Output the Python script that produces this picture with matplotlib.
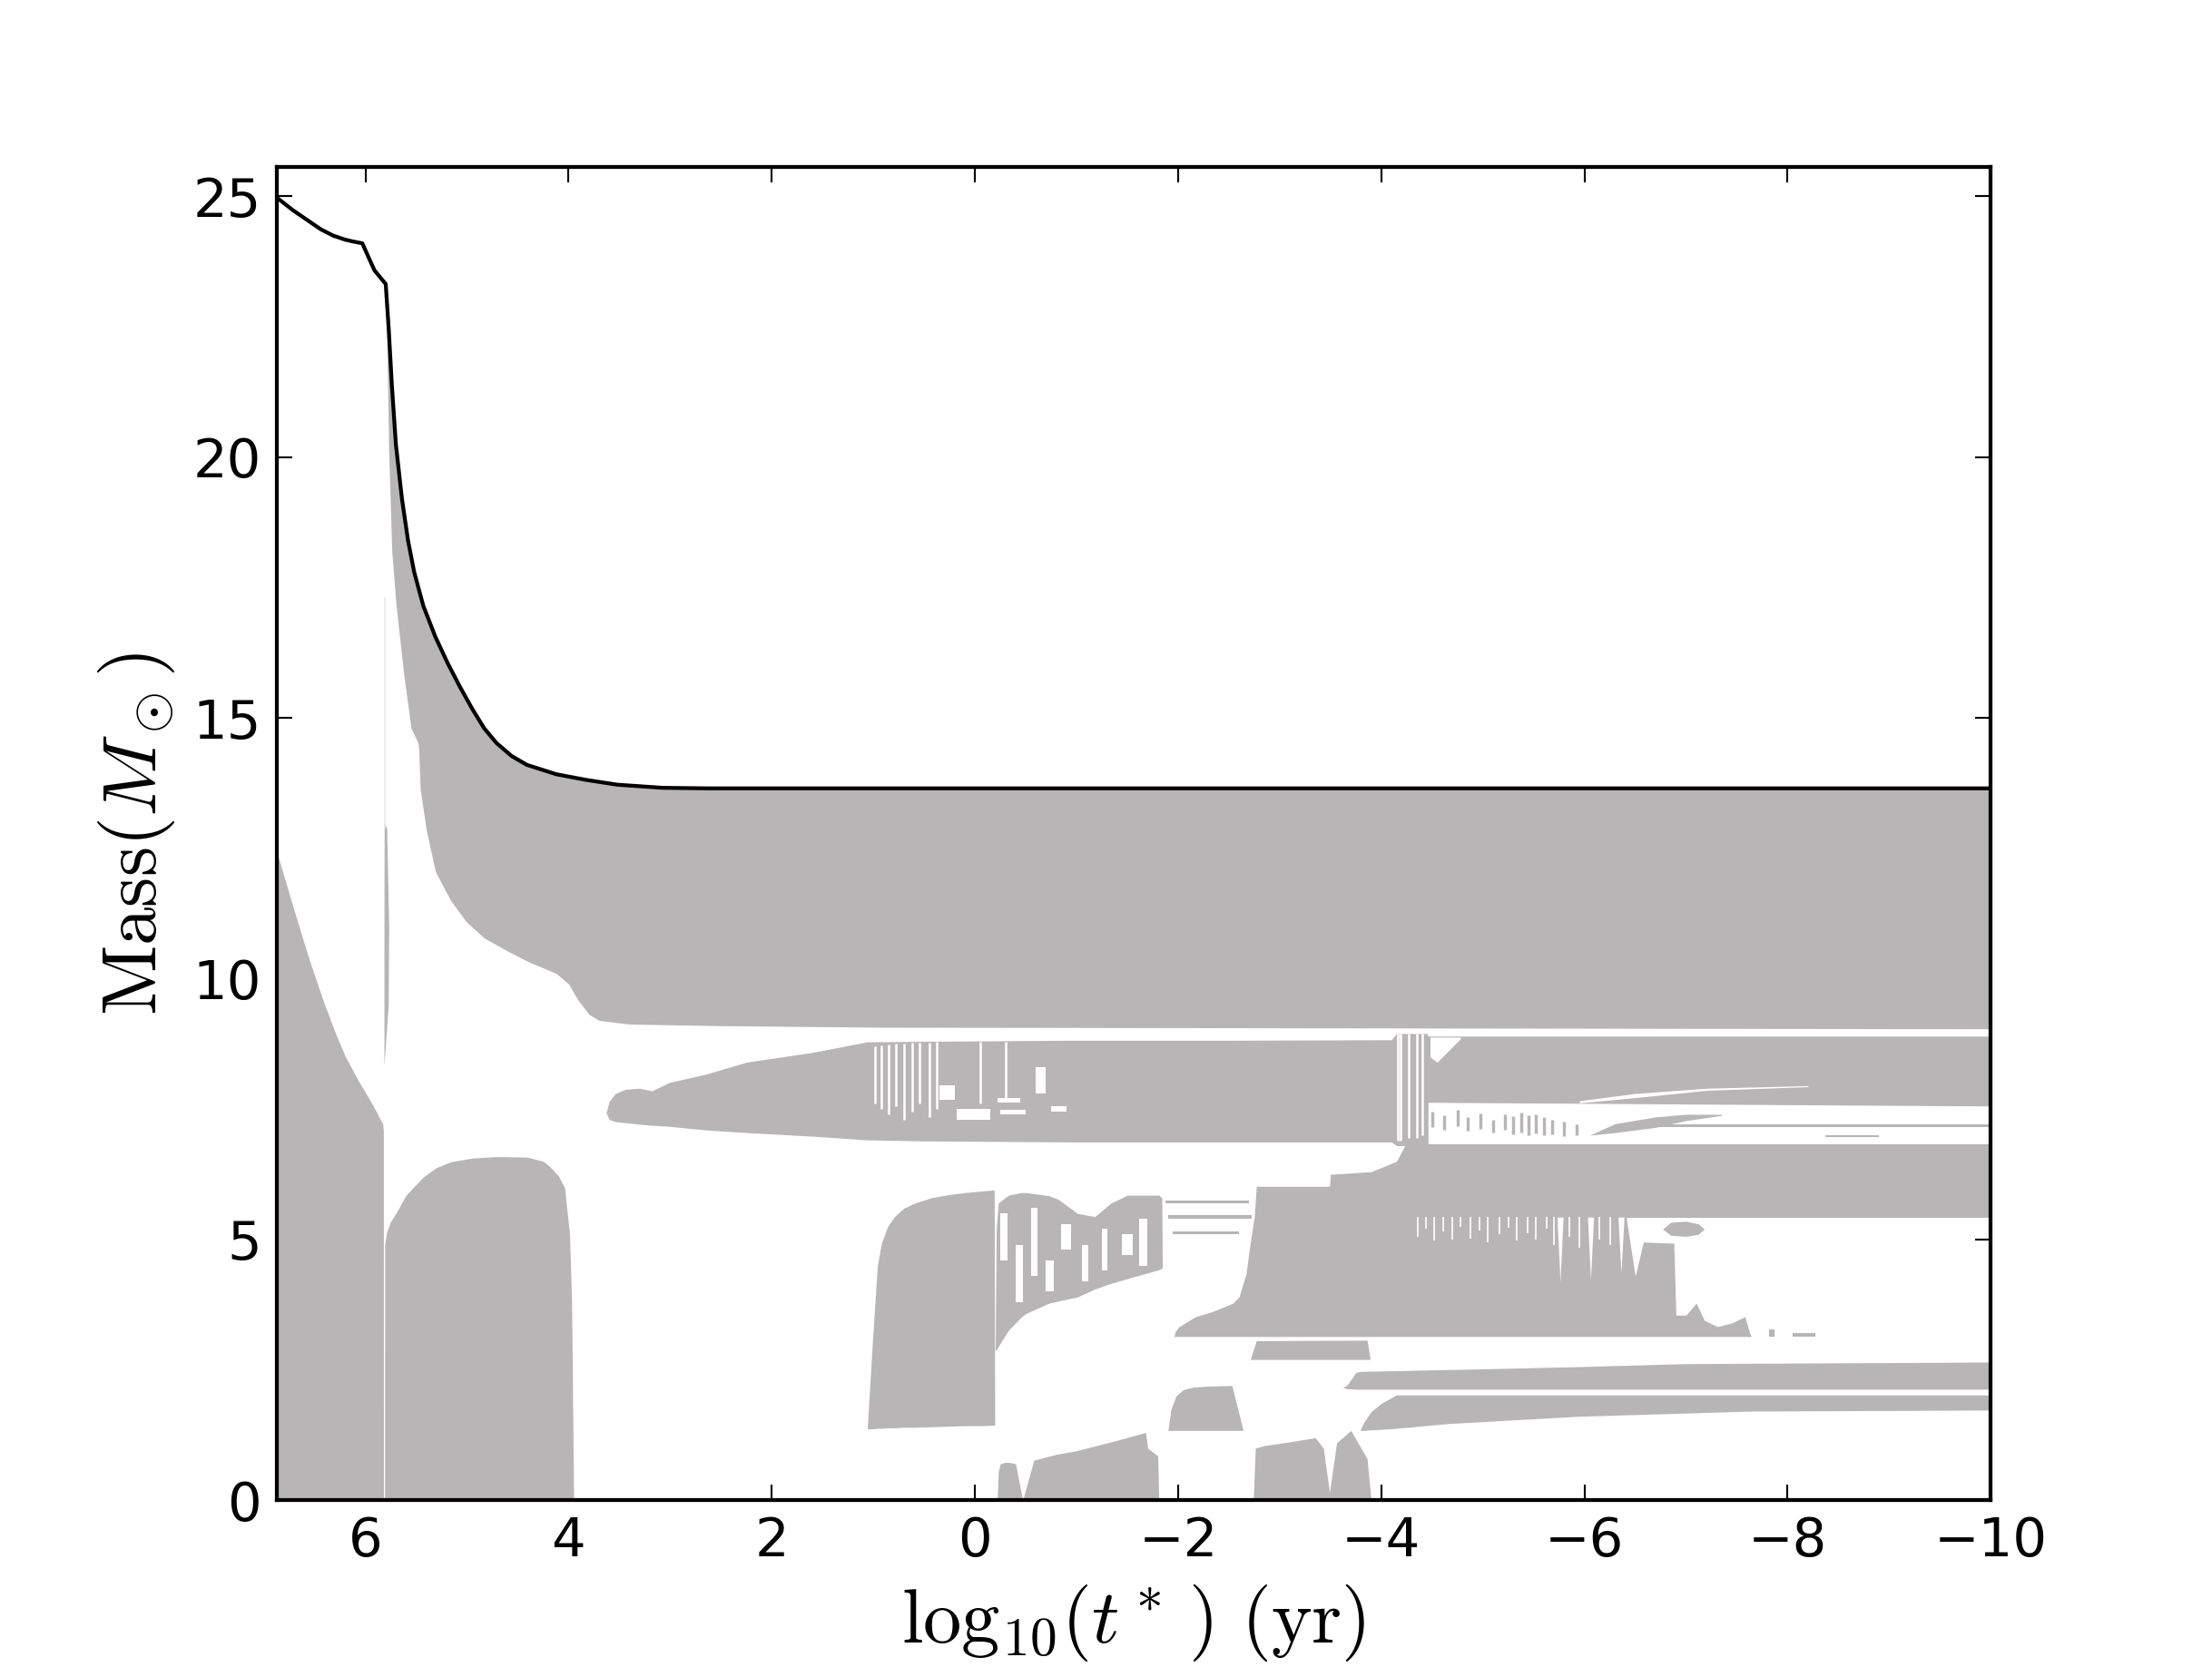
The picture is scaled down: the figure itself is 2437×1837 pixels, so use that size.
import numpy as np
import matplotlib
matplotlib.use('Agg')
import matplotlib.pyplot as plt

plt.rcParams['mathtext.fontset'] = 'cm'
plt.rcParams['xtick.direction'] = 'in'
plt.rcParams['ytick.direction'] = 'in'
plt.rcParams['xtick.top'] = True
plt.rcParams['ytick.right'] = True
plt.rcParams['xtick.major.size'] = 4
plt.rcParams['ytick.major.size'] = 4
plt.rcParams['xtick.major.width'] = 0.5
plt.rcParams['ytick.major.width'] = 0.5
plt.rcParams['xtick.major.pad'] = 4
plt.rcParams['ytick.major.pad'] = 4
plt.rcParams['axes.linewidth'] = 1.0

grey = '#b8b5b6'

# total mass of the star
mass_t = [6.875, 6.71, 6.56, 6.44, 6.32, 6.20, 6.11, 6.03, 5.95, 5.91, 5.80, 5.77, 5.74, 5.70,
          5.64, 5.58, 5.52, 5.43, 5.31, 5.19, 5.07, 4.95, 4.83, 4.71, 4.56, 4.41, 4.12, 3.82,
          3.52, 3.07, 2.63, -10.0]
mass_m = [24.98, 24.73, 24.53, 24.37, 24.25, 24.17, 24.13, 24.10, 23.75, 23.58, 23.32, 22.45, 21.40, 20.25,
          19.20, 18.40, 17.80, 17.15, 16.55, 16.05, 15.60, 15.18, 14.80, 14.52, 14.27, 14.10, 13.92, 13.81,
          13.72, 13.66, 13.65, 13.65]

# convective envelope: lower boundary (upper boundary is the surface)
env_t = [5.800, 5.790, 5.770, 5.740, 5.700, 5.620, 5.550, 5.500, 5.480, 5.475, 5.460, 5.400, 5.310,
         5.160, 5.010, 4.830, 4.590, 4.410, 4.120, 4.000, 3.910, 3.800, 3.700, 3.400, 2.500, 0.930, -10.0]
env_lo = [23.30, 22.40, 20.10, 18.20, 17.20, 15.80, 14.80, 14.60, 14.50, 14.40, 13.63, 12.85, 12.05,
          11.50, 11.10, 10.78, 10.52, 10.34, 10.10, 9.90, 9.60, 9.32, 9.20, 9.13, 9.10, 9.07, 9.04]

# hydrogen burning core
core1_t = [6.875, 6.70, 6.55, 6.41, 6.30, 6.20, 6.08, 5.97, 5.90, 5.83, 5.823, 5.822]
core1_m = [12.45, 11.30, 10.35, 9.55, 8.98, 8.52, 8.08, 7.72, 7.48, 7.22, 7.10, 0.0]

# helium burning core
core2_t = [5.811, 5.810, 5.790, 5.750, 5.700, 5.600, 5.430, 5.300, 5.160, 4.950, 4.710, 4.410,
           4.250, 4.180, 4.100, 4.040, 3.990, 3.970, 3.955, 3.950]
core2_m = [0.0, 4.90, 5.15, 5.35, 5.50, 5.85, 6.20, 6.38, 6.49, 6.56, 6.59, 6.58,
           6.50, 6.39, 6.22, 6.00, 5.10, 3.83, 1.00, 0.0]

# thin sliver after core hydrogen exhaustion
sliver_m = [8.37, 9.50, 11.00, 12.88, 13.00]
sliver_l = [5.817, 5.817, 5.817, 5.815, 5.815]
sliver_r = [5.815, 5.775, 5.770, 5.790, 5.812]

# shell convection zone
shell_t = [3.630, 3.600, 3.540, 3.440, 3.300, 3.180, 3.010, 2.650, 2.250, 1.590, 1.060, 0.500,
           -0.950, -2.500, -4.100, -4.150, -4.450, -4.460]
shell_top = [7.43, 7.65, 7.80, 7.88, 7.90, 7.85, 8.01, 8.17, 8.40, 8.59, 8.79, 8.80,
             8.82, 8.82, 8.83, 8.95, 8.95, 8.90]
shell_bot = [7.43, 7.30, 7.26, 7.24, 7.21, 7.19, 7.17, 7.10, 7.05, 6.98, 6.91, 6.89,
             6.87, 6.87, 6.87, 6.80, 6.80, 6.80]

# late bands
b8_t = [-4.45, -10.0]
b8_top = [8.90, 8.90]
b8_bot = [7.63, 7.56]
b6_t = [-4.24, -10.0]
b6_top = [6.83, 6.83]
b6_bot = [5.42, 5.42]

# carbon burning zones
blk_t = [1.060, 1.010, 0.960, 0.920, 0.860, 0.790, 0.700, 0.590, 0.430, 0.260, 0.100, -0.070, -0.190, -0.195]
blk_top = [1.37, 3.00, 4.50, 4.93, 5.25, 5.44, 5.60, 5.70, 5.80, 5.86, 5.90, 5.93, 5.95, 1.44]
blk_bot = [1.37, 1.37, 1.38, 1.38, 1.39, 1.39, 1.40, 1.40, 1.41, 1.42, 1.43, 1.43, 1.44, 1.44]

mess_t = [-0.200, -0.210, -0.230, -0.330, -0.460, -0.500, -0.730, -0.820, -1.010, -1.180, -1.340,
          -1.500, -1.810, -1.840, -1.845]
mess_top = [2.88, 5.20, 5.70, 5.85, 5.90, 5.90, 5.84, 5.77, 5.50, 5.44, 5.70, 5.85, 5.85, 5.80, 4.45]
mess_bot = [2.88, 2.88, 2.95, 3.26, 3.52, 3.58, 3.78, 3.82, 3.90, 4.05, 4.16, 4.25, 4.42, 4.45, 4.45]

lr_t = [-1.960, -1.970, -2.010, -2.170, -2.340, -2.540, -2.600, -2.670, -2.700, -2.750, -2.770,
        -3.490, -3.500, -3.900, -4.150, -4.240, -4.300, -6.400, -6.420, -6.500, -6.580, -6.880,
        -6.900, -7.000, -7.100, -7.180, -7.310, -7.450, -7.580, -7.620, -7.640]
lr_top = [3.14, 3.23, 3.33, 3.52, 3.62, 3.78, 3.90, 4.35, 4.80, 5.44, 6.02,
          6.02, 6.25, 6.30, 6.50, 6.83, 5.60, 5.60, 5.30, 4.30, 4.95, 4.93,
          3.55, 3.55, 3.78, 3.45, 3.33, 3.40, 3.52, 3.25, 3.14]

r27_t = [-2.710, -2.770, -3.860, -3.890]
r27_top = [2.70, 3.06, 3.07, 2.72]

b2u_t = [-3.620, -3.660, -3.750, -3.790, -4.500, -5.000, -5.900, -7.000, -10.0]
b2u_top = [2.17, 2.20, 2.45, 2.47, 2.50, 2.52, 2.56, 2.62, 2.65]
b2u_bot = [2.17, 2.14, 2.13, 2.13, 2.13, 2.13, 2.13, 2.13, 2.13]
b2l_t = [-3.790, -3.830, -3.900, -4.000, -4.150, -4.650, -5.930, -7.640, -10.0]
b2l_top = [1.34, 1.50, 1.70, 1.86, 2.02, 2.02, 2.02, 2.02, 2.02]
b2l_bot = [1.34, 1.34, 1.35, 1.36, 1.38, 1.47, 1.61, 1.71, 1.73]

humpA_t = [-1.900, -1.930, -1.980, -2.050, -2.150, -2.300, -2.530, -2.640]
humpA_top = [1.34, 1.75, 2.00, 2.12, 2.17, 2.19, 2.20, 1.34]

bl1_t = [-0.220, -0.230, -0.250, -0.300, -0.360, -0.400, -0.470]
bl1_top = [0.0, 0.55, 0.70, 0.73, 0.72, 0.70, 0.0]
bl2_t = [-0.470, -0.580, -0.800, -1.000, -1.400, -1.680, -1.700, -1.800, -1.810]
bl2_top = [0.0, 0.77, 0.88, 0.95, 1.15, 1.30, 1.00, 0.85, 0.0]
bl4_t = [-2.740, -2.760, -2.850, -3.100, -3.350, -3.430, -3.490, -3.560, -3.700, -3.860, -3.900]
bl4_top = [0.0, 1.00, 1.05, 1.12, 1.20, 1.00, 0.15, 1.10, 1.34, 0.80, 0.0]

blob_t = [-6.77, -6.85, -7.00, -7.12, -7.18]
blob_top = [5.20, 5.33, 5.35, 5.30, 5.20]
blob_bot = [5.20, 5.08, 5.06, 5.10, 5.20]

# thin grey streaks: x start, x end, y low, y high
streak_x0 = [-1.88, -1.90, -1.95, -6.60, -8.37, -7.82, -8.05]
streak_x1 = [-2.70, -2.72, -2.60, -10.0, -8.90, -7.87, -8.27]
streak_lo = [5.69, 5.40, 5.10, 7.15, 6.96, 3.14, 3.14]
streak_hi = [5.75, 5.46, 5.16, 7.20, 7.00, 3.28, 3.20]

curl_t = [-6.05, -6.30, -6.70, -7.00, -7.35]
curl_top = [7.00, 7.22, 7.35, 7.40, 7.40]
curl_bot = [7.00, 7.05, 7.15, 7.28, 7.38]

dash_x = [-4.50, -4.62, -4.75, -4.85, -4.98, -5.10, -5.22, -5.30, -5.38, -5.45, -5.52,
          -5.60, -5.68, -5.80, -5.92]
dash_lo = [7.15, 7.10, 7.18, 7.08, 7.12, 7.05, 7.10, 7.02, 7.06, 7.00, 7.04, 7.00, 7.02, 6.98, 7.00]
dash_hi = [7.45, 7.38, 7.48, 7.35, 7.42, 7.30, 7.40, 7.36, 7.44, 7.38, 7.40, 7.34, 7.30, 7.26, 7.20]

# white gaps inside convective regions: x start, x end, y low, y high
hole_x0 = [-0.25, -0.40, -0.55, -0.70, -0.85, -1.05, -1.25, -1.45, -1.62,
           0.35, 0.18, -0.22, -0.25, -0.60, -0.75]
hole_x1 = [-0.32, -0.47, -0.62, -0.78, -0.95, -1.12, -1.30, -1.55, -1.70,
           0.20, -0.15, -0.45, -0.50, -0.70, -0.90]
hole_lo = [4.60, 3.80, 4.30, 4.00, 4.80, 4.20, 4.40, 4.70, 4.50,
           7.68, 7.30, 7.62, 7.40, 7.80, 7.45]
hole_hi = [5.50, 4.90, 5.60, 4.60, 5.30, 4.90, 5.20, 5.10, 5.40,
           7.95, 7.50, 7.72, 7.48, 8.30, 7.55]

wline_x = [0.98, 0.92, 0.85, 0.78, 0.70, 0.62, 0.55, 0.45, 0.38, -0.05, -0.30,
           -4.16, -4.19, -4.27, -4.35, -4.40]
wline_lo = [7.60, 7.50, 7.40, 7.55, 7.30, 7.45, 7.60, 7.35, 7.50, 7.60, 7.70,
            6.90, 6.90, 6.95, 6.95, 7.00]
wline_hi = [8.70, 8.72, 8.74, 8.75, 8.76, 8.77, 8.78, 8.78, 8.79, 8.80, 8.80,
            8.95, 8.95, 8.95, 8.95, 8.95]

# speckles below the 5.4 band
speck_x = [-4.36, -4.44, -4.52, -4.61, -4.70, -4.78, -4.88, -4.97, -5.05, -5.16, -5.25,
           -5.33, -5.44, -5.52, -5.63, -5.70, -5.85, -5.95, -6.15, -6.25]
speck_lo = [5.05, 5.20, 4.98, 5.15, 5.00, 5.25, 5.02, 5.18, 4.95, 5.10, 5.22,
            4.98, 5.12, 5.00, 5.20, 4.90, 5.05, 4.85, 5.00, 4.90]

spike_x = [-5.76, -6.06, -6.36]
spike_lo = [4.19, 4.23, 4.35]

wcurve_t = [-5.95, -6.50, -7.20, -8.20]
wcurve_top = [7.66, 7.80, 7.90, 7.95]
wcurve_bot = [7.62, 7.72, 7.86, 7.93]

fig = plt.figure(figsize=(8, 6.0306), dpi=304.625)
ax = fig.add_axes([0.125, 0.1, 0.775, 0.8])


def band(t, lo, hi, c=grey, z=2):
    ax.fill_between(t, lo, hi, color=c, lw=0, zorder=z)


# envelope between its lower boundary and the surface
grid = np.unique(np.concatenate([np.linspace(-10, 5.80, 3000), env_t, [m for m in mass_t if m <= 5.80]]))
env_hi = np.interp(grid, mass_t[::-1], mass_m[::-1])
env_low = np.interp(grid, env_t[::-1], env_lo[::-1])
band(grid, env_low, env_hi)

band(core1_t, 0, core1_m)
band(core2_t, 0, core2_m)
ax.fill_betweenx(sliver_m, sliver_l, sliver_r, color=grey, lw=0, zorder=2)
ax.plot([5.812, 5.812], [12.9, 17.3], color='#ebe9ea', lw=0.4, zorder=2)

band(shell_t, shell_bot, shell_top)
band(b8_t, b8_bot, b8_top)
band(b6_t, b6_bot, b6_top)
band(blk_t, blk_bot, blk_top)
band(mess_t, mess_bot, mess_top)
band(lr_t, 3.14, lr_top)
band(r27_t, 2.70, r27_top)
band(b2u_t, b2u_bot, b2u_top)
band(b2l_t, b2l_bot, b2l_top)
band(humpA_t, 1.34, humpA_top)
band(bl1_t, 0, bl1_top)
band(bl2_t, 0, bl2_top)
band(bl4_t, 0, bl4_top)
band(blob_t, blob_bot, blob_top)
band(curl_t, curl_bot, curl_top)
for x0, x1, lo, hi in zip(streak_x0, streak_x1, streak_lo, streak_hi):
    band([x0, x1], lo, hi)
ax.vlines(dash_x, dash_lo, dash_hi, color=grey, lw=0.8, zorder=2)

# white gaps
ax.vlines(speck_x, speck_lo, 5.43, color='white', lw=0.4, zorder=3)
for x, lo in zip(spike_x, spike_lo):
    band([x + 0.03, x, x - 0.03], [5.43, lo, 5.43], 5.43, c='white', z=3)
for x0, x1, lo, hi in zip(hole_x0, hole_x1, hole_lo, hole_hi):
    band([x0, x1], lo, hi, c='white', z=3)
ax.vlines(wline_x, wline_lo, wline_hi, color='white', lw=0.6, zorder=3)
band(wcurve_t, wcurve_bot, wcurve_top, c='white', z=3)
band([-4.48, -4.55, -4.78], [8.50, 8.40, 8.85], 8.88, c='white', z=3)

ax.plot(mass_t, mass_m, color='black', lw=1.0, zorder=5)

ax.set_xlim(6.875, -10)
ax.set_ylim(0, 25.57)
ax.set_xticks([6, 4, 2, 0, -2, -4, -6, -8, -10])
ax.set_yticks([0, 5, 10, 15, 20, 25])
ax.tick_params(labelsize=14)
ax.set_xlabel(r'$\mathrm{log}_{10}(t^*\,)\ \mathrm{(yr)}$', fontsize=20)
ax.set_ylabel(r'$\mathrm{Mass}(M_\odot)$', fontsize=20)

fig.savefig('out.png', dpi=304.625, facecolor='white')
